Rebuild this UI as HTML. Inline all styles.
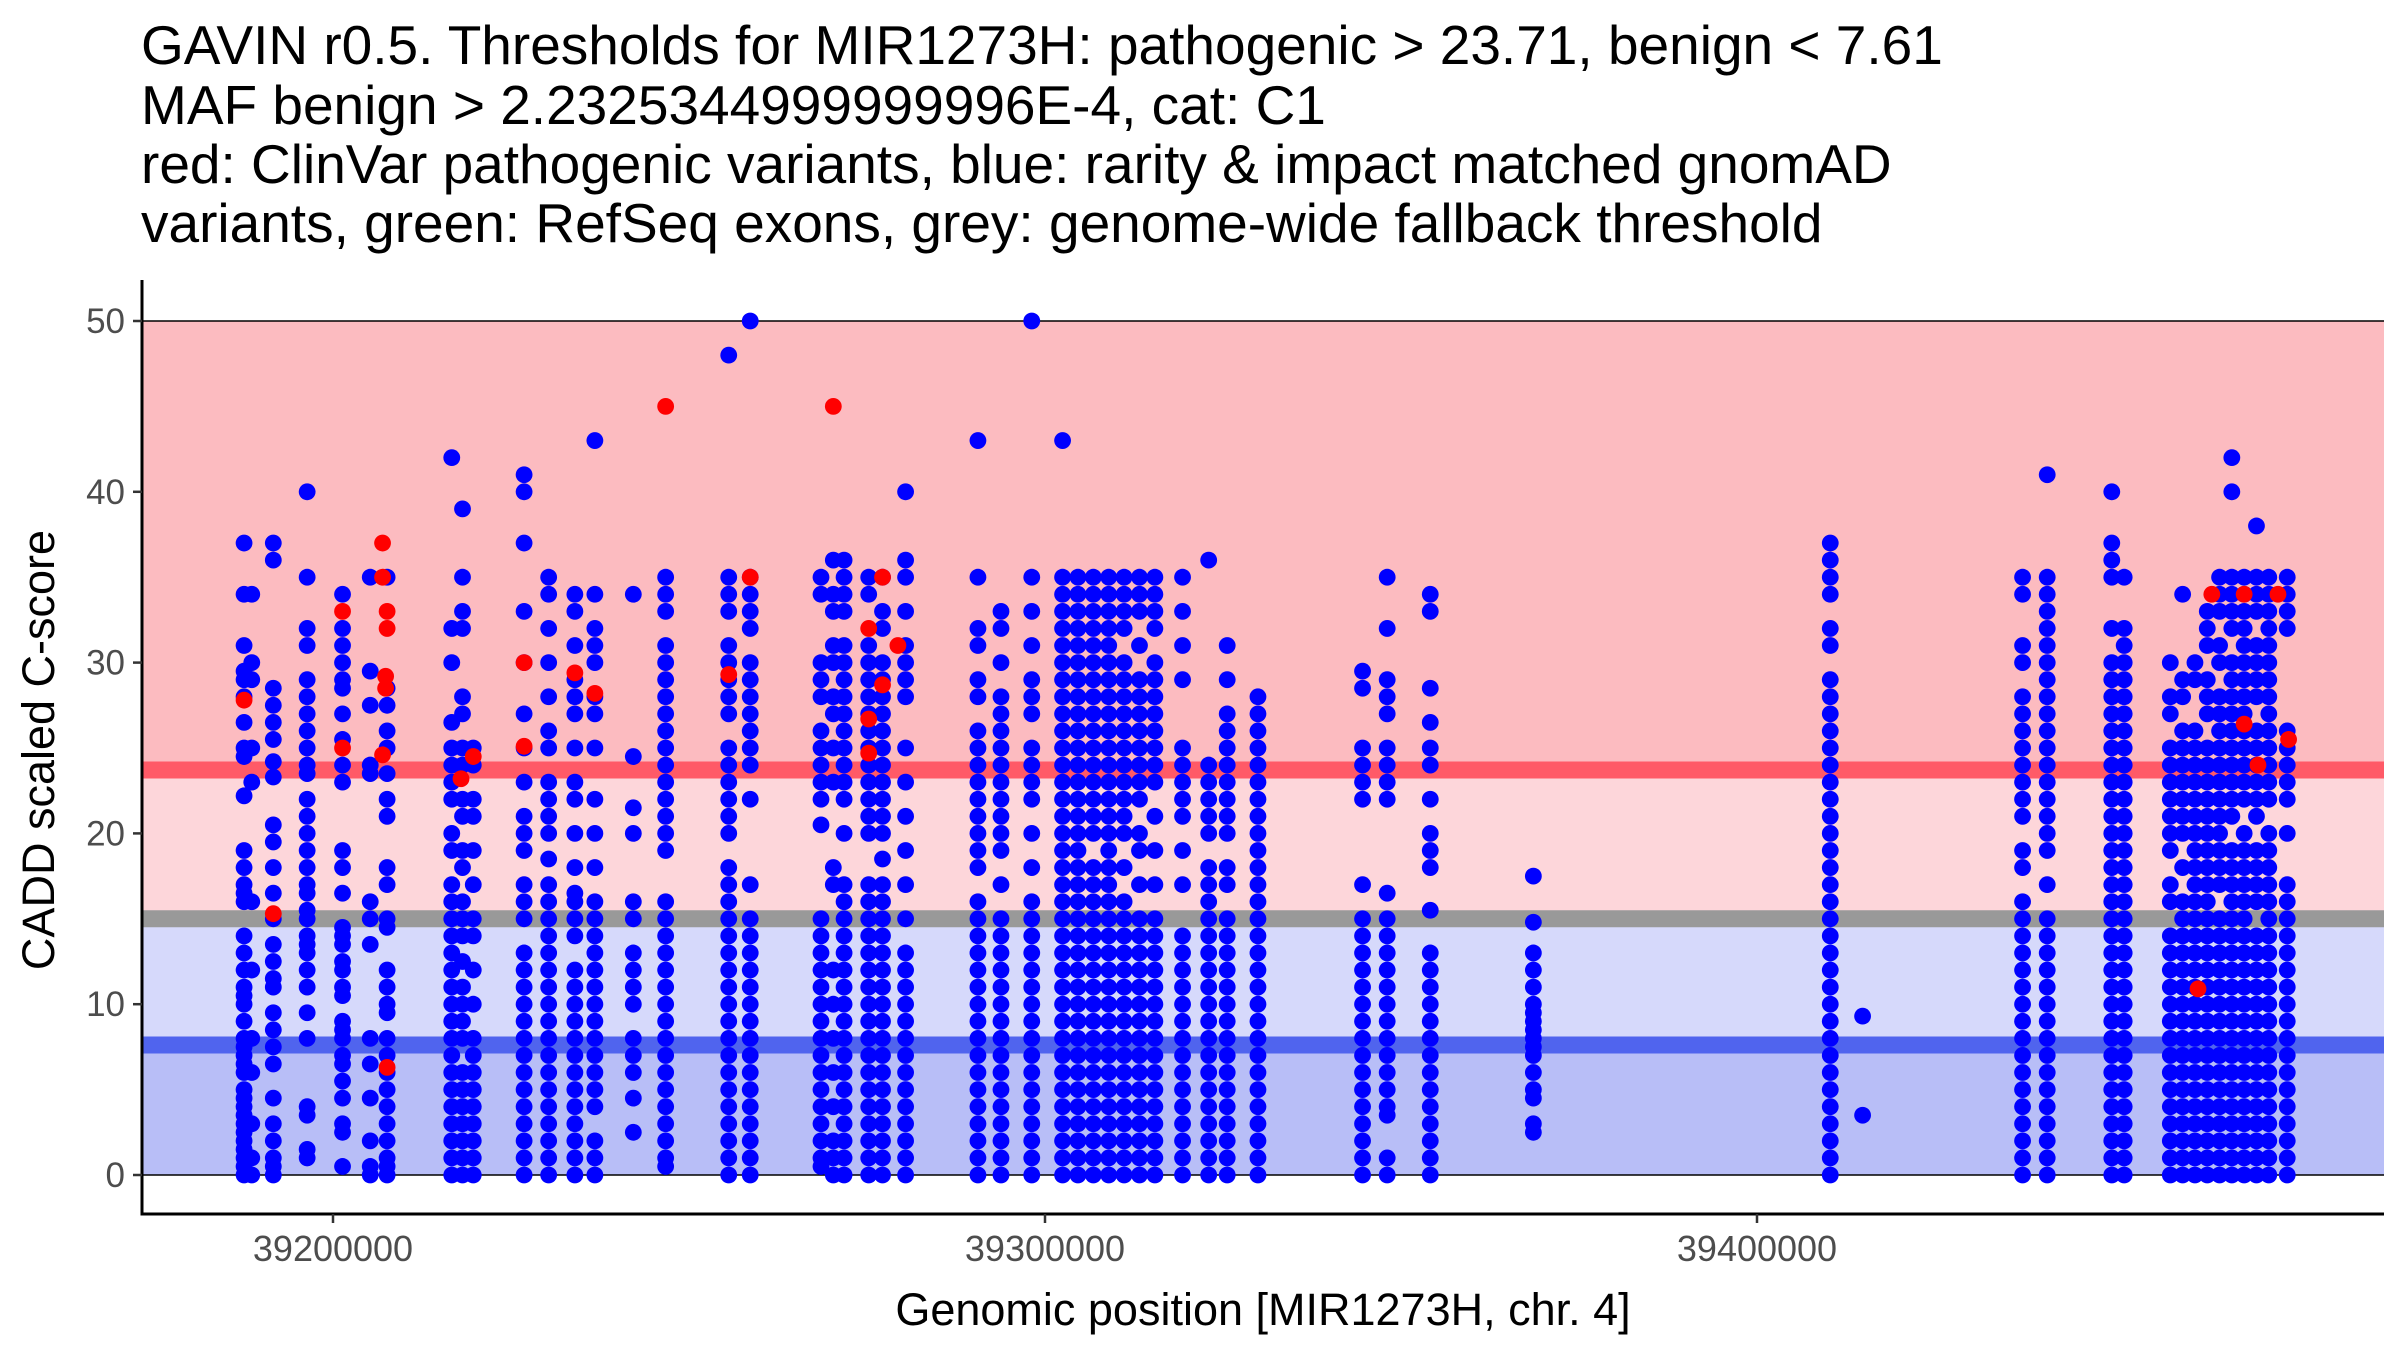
<!DOCTYPE html>
<html><head><meta charset="utf-8"><style>
html,body{margin:0;padding:0;background:#fff;}
svg{display:block;font-family:"Liberation Sans",sans-serif;}
</style></head><body>
<svg id="chart" width="2400" height="1350" viewBox="0 0 2400 1350" xmlns="http://www.w3.org/2000/svg">
<g font-size="55" fill="#000">
<text x="141" y="64">GAVIN r0.5. Thresholds for MIR1273H: pathogenic &gt; 23.71, benign &lt; 7.61</text>
<text x="141" y="124">MAF benign &gt; 2.2325344999999996E-4, cat: C1</text>
<text x="141" y="183">red: ClinVar pathogenic variants, blue: rarity &amp; impact matched gnomAD</text>
<text x="141" y="242">variants, green: RefSeq exons, grey: genome-wide fallback threshold</text>
</g>
<g id="bands"></g>
<g id="points"></g>
<g id="axes"></g>
</svg>
<script>
const xTicks = [39200000, 39300000, 39400000];
const yTicks = [0, 10, 20, 30, 40, 50];
const pathoThreshold = 23.71;
const benignThreshold = 7.61;
const fallbackThreshold = 15;
const yMax = 50;
const blueCols = [39187510,39188590,39191616,39196370,39201340,39205230,39207600,39216680,39218190,39219700,39226840,39230290,39233970,39236780,39242180,39246720,39255580,39258600,39268540,39270270,39271780,39275240,39277180,39280420,39290580,39293820,39298140,39302470,39304630,39306790,39308950,39311110,39313270,39315430,39319320,39322990,39325590,39329910,39344600,39348060,39354110,39368590,39410290,39414830,39437300,39440760,39449830,39451570,39458050,39459780,39461510,39463240,39464970,39466690,39468420,39470150,39471880,39474470];
const blueScores = [
[37,34,31,29.5,29,28,26.5,25,24.5,22.2,19,18,17,16.5,16,14,13,12,11,10.5,10,9,8,7.5,7,6.5,6,5,4.5,4,3.5,3,2.5,2,1.5,1,0.5,0],
[34,30,29,25,23,16,12,8,6,3,1,0],
[37,36,28.5,27.5,26.5,25.5,24.2,23.3,20.5,19.5,18,16.5,15,13.5,12.5,11.5,11,9.5,8.5,7.5,6.5,4.5,3,2,1,0.5,0],
[40,35,32,31,29,28,27,26,25,24,23.5,22,21,20,19,18,17,16.5,15.5,15,14,13.5,13,12,11,9.5,8,4,3.5,1.5,1],
[34,32,31,30,29,28.5,27,25.5,24,23,19,18,16.5,14.5,14,13.5,12.5,12,11,10.5,9,8.5,8,7,6.5,5.5,4.5,3,2.5,0.5],
[35,29.5,27.5,24,23.5,16,15,13.5,8,6.5,4.5,2,0.5,0],
[35,28.5,27.5,26,25,23.5,22,21,18,17,15,14.5,12,11,10,9.5,8,7,6,5,4,3,2,1,0.5,0],
[42,32,30,26.5,25,24,23,22,20,19,17,16,15,14,13,12,11,10,9,8,7,6,5,4,3,2,1,0],
[39,35,33,32,28,27,25,24,22,21,19,18,16,15,14,12.5,11,10,9,8,6,5,4,3,2,1,0],
[25,24,22,21,19,17,15,14,12,10,8,7,6,5,4,3,2,1,0],
[41,40,37,33,30,27,25,23,21,20,19,17,16,15,13,12,11,10,9,8,7,6,5,4,3,2,1,0],
[35,34,32,30,28,26,25,23,22,21,20,18.5,17,16,15,14,13,12,11,10,9,8,7,6,5,4,3,2,1,0],
[34,33,31,29,28,27,25,23,22,20,18,16.5,16,15,14,12,11,10,9,8,7,6,5,4,3,2,1,0],
[43,34,32,31,30,28,27,25,22,20,18,16,15,14,13,12,11,10,9,8,7,6,5,4,2,1,0],
[34,24.5,21.5,20,16,15,13,12,11,10,8,7,6,4.5,2.5],
[35,34,33,31,30,29,28,27,26,25,24,23,22,21,20,19,16,15,14,13,12,11,10,9,8,7,6,5,4,3,2,1,0.5],
[48,35,34,33,31,30,29,28,27,25,24,23,22,21,20,18,17,16,15,14,13,12,11,10,9,8,7,6,5,4,3,2,1,0],
[50,35,34,33,32,30,29,28,27,26,25,24,22,17,15,14,13,12,11,10,9,8,7,6,5,4,3,2,1,0],
[35,34,30,29,28,26,25,24,23,22,20.5,15,14,13,12,11,10,9,8,7,6,5,4,3,2,1,0.5],
[36,34,33,31,30,28,27,25,23,18,17,12,10,8,6,4,2,1,0],
[36,35,34,33,31,30,29,28,27,26,25,24,23,22,20,17,16,15,14,13,12,11,10,9,8,7,6,5,4,3,2,1,0],
[35,34,31,30,29,28,27,26,25,24,23,22,21,20,17,16,15,14,13,12,11,10,9,8,7,6,5,4,3,2,1,0],
[35,33,32,30,29,28,27,26,25,24,23,22,21,20,18.5,17,16,15,14,13,12,11,10,9,8,7,6,5,4,3,2,1,0],
[40,36,35,33,31,30,29,28,25,23,21,19,17,15,13,12,11,10,9,8,7,6,5,4,3,2,1,0],
[43,35,32,31,29,28,26,25,24,23,22,21,20,19,18,16,15,14,13,12,11,10,9,8,7,6,5,4,3,2,1,0],
[33,32,30,28,27,26,25,24,23,22,21,20,19,17,15,14,13,12,11,10,9,8,7,6,5,4,3,2,1,0],
[50,35,33,31,29,28,27,25,24,23,22,20,18,16,15,14,13,12,11,10,9,8,7,6,5,4,3,2,1,0],
[43,35,34,33,32,31,30,29,28,27,26,25,24,23,22,21,20,19,18,17,16,15,14,13,12,11,10,9,8,7,6,5,4,3,2,1,0],
[35,34,33,32,31,30,29,28,27,26,25,24,23,22,21,20,19,18,17,16,15,14,13,12,11,10,9,8,7,6,5,4,3,2,1,0],
[35,34,33,32,31,30,29,28,27,26,25,24,23,22,21,20,18,17,16,15,14,13,12,11,10,9,8,7,6,5,4,3,2,1,0],
[35,34,33,32,31,30,29,28,27,26,25,24,23,22,21,20,19,18,17,16,15,14,13,12,11,10,9,8,7,6,5,4,3,2,1,0],
[35,34,33,32,30,29,28,27,26,25,24,23,22,21,20,18,16,15,14,13,12,11,10,9,8,7,6,5,4,3,2,1,0],
[35,34,33,31,29,28,27,26,25,24,23,22,20,19,17,15,14,13,12,11,10,9,8,7,6,5,4,3,2,1,0],
[35,34,33,32,30,29,28,27,26,25,24,23,21,19,17,15,14,13,12,11,10,9,8,7,6,5,4,3,2,1,0],
[35,33,31,29,25,24,23,22,21,19,17,14,13,12,11,10,9,8,7,6,5,4,3,2,1,0],
[36,24,23,22,21,20,18,17,16,15,14,13,12,11,10,9,8,7,6,5,4,3,2,1,0],
[31,29,27,26,25,24,23,22,21,20,18,17,15,14,13,12,11,10,9,8,7,6,5,4,3,2,1,0],
[28,27,26,25,24,23,22,21,20,19,18,17,16,15,14,13,12,11,10,9,8,7,6,5,4,3,2,1,0],
[29.5,28.5,25,24,23,22,17,15,14,13,12,11,10,9,8,7,6,5,4,3,2,1,0],
[35,32,29,28,27,25,24,23,22,16.5,15,14,13,12,11,10,9,8,7,6,5,4,3.5,1,0],
[34,33,28.5,26.5,25,24,22,20,19,18,15.5,13,12,11,10,9,8,7,6,5,4,3,2,1,0],
[17.5,14.8,13,12,11,10,9.5,9,8.5,8,7.5,7,6,5,4.5,3,2.5],
[37,36,35,34,32,31,29,28,27,26,25,24,23,22,21,20,19,18,17,16,15,14,13,12,11,10,9,8,7,6,5,4,3,2,1,0],
[9.3,3.5],
[35,34,31,30,28,27,26,25,24,23,22,21,19,18,16,15,14,13,12,11,10,9,8,7,6,5,4,3,2,1,0],
[41,35,34,33,32,31,30,29,28,27,26,25,24,23,22,21,20,19,17,15,14,13,12,11,10,9,8,7,6,5,4,3,2,1,0],
[40,37,36,35,32,30,29,28,27,26,25,24,23,22,21,20,19,18,17,16,15,14,13,12,11,10,9,8,7,6,5,4,3,2,1,0],
[35,32,31,30,29,28,27,26,25,24,23,22,21,20,19,18,17,16,15,14,13,12,11,10,9,8,7,6,5,4,3,2,1,0],
[30,28,27,25,24,23,22,21,20,19,17,16,14,13,12,11,10,9,8,7,6,5,4,3,2,1,0],
[34,29,28,26,25,24,23,22,21,20,18,16,15,14,13,12,11,10,9,8,7,6,5,4,3,2,1,0],
[30,29,26,25,24,23,22,21,20,19,18,17,16,15,14,13,12,11,10,9,8,7,6,5,4,3,2,1,0],
[33,32,31,29,28,27,25,24,23,22,21,20,19,18,17,16,15,14,13,12,11,10,9,8,7,6,5,4,3,2,1,0],
[35,34,33,31,30,28,27,26,25,24,23,22,21,20,19,18,17,15,14,13,12,11,10,9,8,7,6,5,4,3,2,1,0],
[42,40,35,34,33,32,30,29,28,27,26,25,24,23,22,21,19,18,17,16,15,14,13,12,11,10,9,8,7,6,5,4,3,2,1,0],
[35,34,33,32,31,30,29,28,27,26,25,24,23,22,20,19,18,17,16,15,14,13,12,11,10,9,8,7,6,5,4,3,2,1,0],
[38,35,34,33,31,30,29,28,26,25,24,23,22,21,19,18,17,16,14,13,12,11,10,9,8,7,6,5,4,3,2,1,0],
[35,34,33,32,31,30,29,28,27,26,25,24,23,22,20,19,18,17,16,15,14,13,12,11,10,9,8,7,6,5,4,3,2,1,0],
[35,34,33,32,26,25,24,23,22,20,17,16,15,14,13,12,11,10,9,8,7,6,5,4,3,2,1,0]
];
const redPos = [39187510,39191616,39201340,39201340,39206960,39206960,39207600,39207600,39207390,39207390,39206960,39207600,39217980,39219700,39226840,39226840,39233970,39236780,39246720,39255580,39258600,39270270,39275240,39275240,39275240,39277180,39277180,39279340,39461940,39463880,39468420,39473170,39468420,39470360,39474660];
const redScores = [27.8,15.3,33,25,37,35,33,32,29.2,28.5,24.6,6.3,23.2,24.5,30,25.1,29.4,28.2,45,29.3,35,45,32,26.7,24.7,35,28.7,31,10.9,34,34,34,26.4,24,25.5];

const NS="http://www.w3.org/2000/svg";
const L=142,R=2384,T=280,B=1214;
function xs(p){return 333+(p-39200000)/100000*712;}
function ys(v){return 1175-v*(1175-321)/50;}
function mk(tag,attrs,parent){const e=document.createElementNS(NS,tag);for(const k in attrs)e.setAttribute(k,attrs[k]);parent.appendChild(e);return e;}
const bands=document.getElementById('bands'),pts=document.getElementById('points'),axes=document.getElementById('axes');
let e;
e=mk('rect',{x:L,y:ys(yMax),width:R-L,height:ys(pathoThreshold)-ys(yMax),fill:'#FCBBC0'},bands);


e=mk('rect',{x:L,y:ys(pathoThreshold),width:R-L,height:ys(fallbackThreshold)-ys(pathoThreshold),fill:'#FDD6DA'},bands);


e=mk('rect',{x:L,y:ys(fallbackThreshold),width:R-L,height:ys(benignThreshold)-ys(fallbackThreshold),fill:'#D6D9FB'},bands);


e=mk('rect',{x:L,y:ys(benignThreshold),width:R-L,height:ys(0)-ys(benignThreshold),fill:'#B8BEF7'},bands);


e=mk('line',{x1:L,x2:R,y1:ys(pathoThreshold),y2:ys(pathoThreshold),stroke:'#FF5A67','stroke-width':17},bands);


e=mk('line',{x1:L,x2:R,y1:ys(fallbackThreshold),y2:ys(fallbackThreshold),stroke:'#999999','stroke-width':17},bands);


e=mk('line',{x1:L,x2:R,y1:ys(benignThreshold),y2:ys(benignThreshold),stroke:'#5064EE','stroke-width':17},bands);


e=mk('line',{x1:L,x2:R,y1:ys(yMax),y2:ys(yMax),stroke:'#000','stroke-width':1.6},bands);


e=mk('line',{x1:L,x2:R,y1:ys(0),y2:ys(0),stroke:'#000','stroke-width':1.6},bands);



blueCols.forEach((p,i)=>{blueScores[i].forEach(v=>{
  const c=mk('circle',{cx:xs(p),cy:ys(v),r:8.4,fill:'#0000FF'},pts);
  
  
});});
redPos.forEach((p,i)=>{
  const c=mk('circle',{cx:xs(p),cy:ys(redScores[i]),r:8.4,fill:'#FF0000'},pts);
  
  
});

e=mk('line',{x1:L,x2:L,y1:T,y2:B+1.5,stroke:'#000','stroke-width':3},axes);


e=mk('line',{x1:L-1.5,x2:R,y1:B,y2:B,stroke:'#000','stroke-width':3},axes);


yTicks.forEach(v=>{
  e=mk('line',{x1:L-9,x2:L,y1:ys(v),y2:ys(v),stroke:'#333','stroke-width':2.5},axes);
  
  
  const t=mk('text',{x:L-17,y:ys(v)+12,'text-anchor':'end','font-size':35,fill:'#4D4D4D'},axes);
  t.textContent=v;
  
  
});
xTicks.forEach(v=>{
  e=mk('line',{x1:xs(v),x2:xs(v),y1:B,y2:B+9,stroke:'#333','stroke-width':2.5},axes);
  
  
  const t=mk('text',{x:xs(v),y:B+47,'text-anchor':'middle','font-size':36,fill:'#4D4D4D'},axes);
  t.textContent=v;
  
  
});
let t=mk('text',{x:(L+R)/2,y:1325,'text-anchor':'middle','font-size':45,fill:'#000'},axes);
t.textContent='Genomic position [MIR1273H, chr. 4]';


t=mk('text',{x:0,y:0,'text-anchor':'middle','font-size':45,fill:'#000',transform:'translate(54,750) rotate(-90)'},axes);
t.textContent='CADD scaled C-score';


</script>
</body></html>
